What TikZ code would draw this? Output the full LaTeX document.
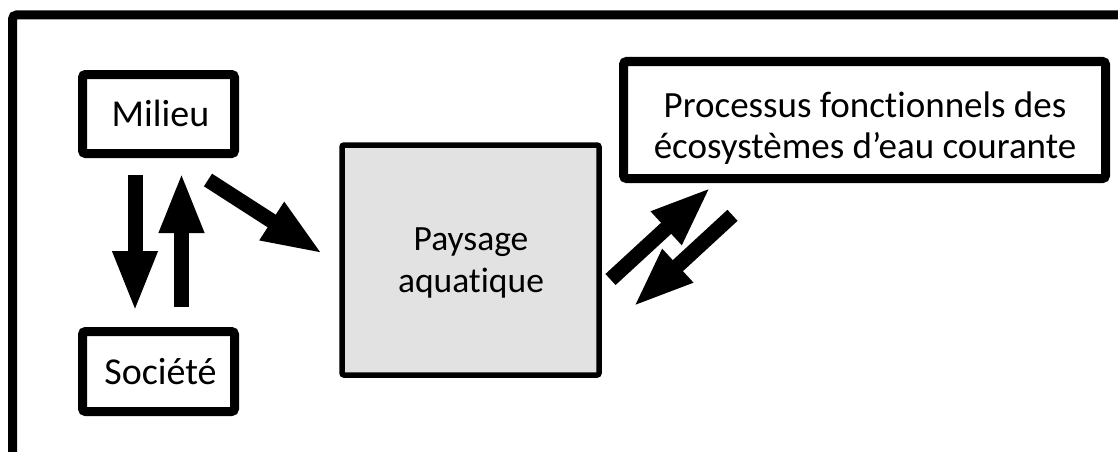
\documentclass[tikz,border=0pt]{standalone}
\usepackage{fontspec}
\setmainfont{Carlito}[Ligatures=NoCommon]
\usetikzlibrary{arrows.meta}
\definecolor{speckle}{HTML}{E2E2E2}
\tikzset{
  box/.style={draw=black, line width=9pt, rounded corners=3pt, fill=white, inner sep=0pt, align=center},
  label/.style={inner sep=0pt, align=center, anchor=base},
  bigarrow/.style={line width=15pt, -{Triangle[length=61pt, width=41pt]}},
}
\begin{document}
\begin{tikzpicture}[x=1pt, y=-1pt]
\useasboundingbox (0,0) rectangle (1118,452);
\clip (0,0) rectangle (1118,452);
\fill[white] (0,0) rectangle (1118,452);
% outer frame (cropped on right and bottom)
\draw[line width=9pt, rounded corners=4pt] (12.5,15) rectangle (1140,480);

\node[box, minimum width=152pt, minimum height=79pt] (milieu) at (158.5,114) {};
\node[label, font=\fontsize{38}{42}\selectfont] (milieutxt) at (160.5,126) {Milieu};
\node[box, minimum width=152pt, minimum height=80pt] (societe) at (158.5,371.5) {};
\node[label, font=\fontsize{38}{42}\selectfont] (societetxt) at (160.5,384) {Société};
\node[box, line width=5.5pt, rounded corners=2pt, fill=speckle, minimum width=257pt, minimum height=230pt] (paysage) at (470.5,260) {};
\node[label, font=\fontsize{35.5}{42}\selectfont] (paysagetxt) at (471,292) {Paysage\\aquatique};
\node[box, minimum width=482pt, minimum height=117pt] (processus) at (864.5,120) {};
\node[label, font=\fontsize{37}{41}\selectfont] (processustxt) at (865,158) {Processus fonctionnels des\\écosystèmes d’eau courante};

\coordinate (d1) at (135,175);
\coordinate (d2) at (135,312);
\coordinate (u1) at (181.5,307);
\coordinate (u2) at (181.5,172);
\coordinate (m1) at (208,180);
\coordinate (m2) at (323,254);
\coordinate (p1) at (610.5,279.5);
\coordinate (p2) at (711,187);
\coordinate (q1) at (732.5,215.3);
\coordinate (q2) at (633,307);

\draw[bigarrow] (d1) -- (d2);
\draw[bigarrow] (u1) -- (u2);
\draw[bigarrow] (m1) -- (m2);
\draw[bigarrow] (p1) -- (p2);
\draw[bigarrow] (q1) -- (q2);
\end{tikzpicture}
\end{document}
